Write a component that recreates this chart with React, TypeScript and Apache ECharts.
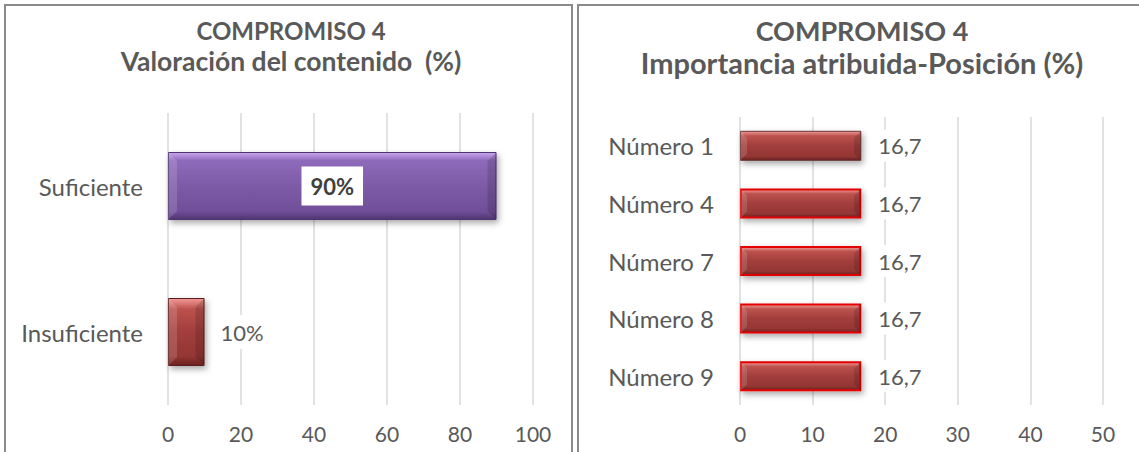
import React, { useEffect, useRef } from "react";
import * as echarts from "echarts";

// Left panel: assessment of the content
const valoracionCategorias = ["Suficiente", "Insuficiente"];
const valoracionValores = [90, 10];
const valoracionTicks = [0, 20, 40, 60, 80, 100];

// Right panel: attributed importance by position
const posicionCategorias = ["Número 1", "Número 4", "Número 7", "Número 8", "Número 9"];
const posicionValores = [16.7, 16.7, 16.7, 16.7, 16.7];
const posicionTicks = [0, 10, 20, 30, 40, 50];

const titulo1 = "COMPROMISO 4";
const subtitulo1 = "Valoración del contenido  (%)";
const subtitulo2 = "Importancia atribuida-Posición (%)";

const FONT = "Lato, 'Open Sans', sans-serif";
const TEXT = "#595959";

const grad = (stops: [number, string][]) =>
  new echarts.graphic.LinearGradient(
    0, 0, 0, 1,
    stops.map(([offset, color]) => ({ offset, color }))
  );

const purpleFill = () =>
  grad([
    [0, "#c9a6f0"],
    [0.12, "#8f6abb"],
    [0.5, "#7d5ba7"],
    [0.88, "#704f99"],
    [1, "#4e346f"],
  ]);

const redFill = () =>
  grad([
    [0, "#f29a96"],
    [0.16, "#bc524e"],
    [0.5, "#a13e3c"],
    [0.86, "#953634"],
    [1, "#6a2220"],
  ]);

const shadow = {
  shadowColor: "rgba(0,0,0,0.35)",
  shadowBlur: 6,
  shadowOffsetX: 2,
  shadowOffsetY: 3,
};

// Bevelled ends drawn over each bar: light on the left, dark on the right.
const bevelRenderer = (barHeight: number, bevel: number) => (params: any, api: any) => {
  const cat = api.value(1);
  const start = api.coord([0, cat]);
  const end = api.coord([api.value(0), cat]);
  const x0 = start[0];
  const x1 = end[0];
  const y0 = start[1] - barHeight / 2;
  const y1 = start[1] + barHeight / 2;
  const b = Math.min(bevel, (x1 - x0) / 2);
  return {
    type: "group",
    silent: true,
    children: [
      {
        type: "polygon",
        shape: { points: [[x0, y0], [x0 + b, y0 + b], [x0 + b, y1 - b], [x0, y1]] },
        style: { fill: "rgba(255,255,255,0.14)" },
      },
      {
        type: "polygon",
        shape: { points: [[x1, y0], [x1 - b, y0 + b], [x1 - b, y1 - b], [x1, y1]] },
        style: { fill: "rgba(0,0,0,0.14)" },
      },
    ],
  };
};

const titleBlock = (
  center: number,
  top: number,
  sub: string,
  size1: number,
  size2: number,
  lh1: number,
  lh2: number
) => ({
  text: `{a|${titulo1}}\n{b|${sub}}`,
  left: center,
  top,
  padding: 0,
  textAlign: "center",
  textStyle: {
    rich: {
      a: {
        fontFamily: FONT,
        fontSize: size1,
        fontWeight: "bold",
        color: TEXT,
        lineHeight: lh1,
        align: "center",
      },
      b: {
        fontFamily: FONT,
        fontSize: size2,
        fontWeight: "bold",
        color: TEXT,
        lineHeight: lh2,
        align: "center",
      },
    },
  },
});

export default function App() {
  const ref = useRef<HTMLDivElement>(null);

  useEffect(() => {
    if (!ref.current) return;
    const chart = echarts.init(ref.current, undefined, { renderer: "svg" });

    const leftMax = valoracionTicks[valoracionTicks.length - 1];
    const leftStep = valoracionTicks[1] - valoracionTicks[0];
    const rightMax = posicionTicks[posicionTicks.length - 1];
    const rightStep = posicionTicks[1] - posicionTicks[0];

    const axisLabel = { color: TEXT, fontFamily: FONT, fontSize: 21, margin: 18 };
    const catLabel = { color: TEXT, fontFamily: FONT, fontSize: 24 };
    const splitLine = { lineStyle: { color: "#d9d9d9", width: 1.5 } };

    chart.setOption({
      animation: false,
      textStyle: { fontFamily: FONT },
      title: [
        titleBlock(291, 16, subtitulo1, 24, 26.5, 29, 31),
        titleBlock(862, 14, subtitulo2, 27, 29, 32, 32),
      ],
      graphic: [
        {
          type: "rect",
          shape: { x: 5, y: 5, width: 567, height: 470 },
          style: { fill: "none", stroke: "#8a8a8a", lineWidth: 2 },
          z: 100,
        },
        {
          type: "rect",
          shape: { x: 578, y: 5, width: 580, height: 470 },
          style: { fill: "none", stroke: "#8a8a8a", lineWidth: 2 },
          z: 100,
        },
      ],
      grid: [
        { left: 168, top: 113, width: 365, height: 292 },
        { left: 740, top: 117, width: 363, height: 288 },
      ],
      xAxis: [
        {
          gridIndex: 0,
          type: "value",
          min: 0,
          max: leftMax,
          interval: leftStep,
          axisLine: { show: false },
          axisTick: { show: false },
          axisLabel,
          splitLine,
        },
        {
          gridIndex: 1,
          type: "value",
          min: 0,
          max: rightMax,
          interval: rightStep,
          axisLine: { show: false },
          axisTick: { show: false },
          axisLabel,
          splitLine,
        },
      ],
      yAxis: [
        {
          gridIndex: 0,
          type: "category",
          inverse: true,
          data: valoracionCategorias,
          axisLine: { show: false },
          axisTick: { show: false },
          axisLabel: { ...catLabel, margin: 25 },
        },
        {
          gridIndex: 1,
          type: "category",
          inverse: true,
          data: posicionCategorias,
          axisLine: { show: false },
          axisTick: { show: false },
          axisLabel: { ...catLabel, margin: 26 },
        },
      ],
      series: [
        {
          type: "bar",
          xAxisIndex: 0,
          yAxisIndex: 0,
          barWidth: 68,
          data: valoracionValores.map((v, i) =>
            i === 0
              ? {
                  value: v,
                  itemStyle: {
                    color: purpleFill(),
                    borderColor: "#4e346f",
                    borderWidth: 1,
                    ...shadow,
                  },
                  label: {
                    show: true,
                    position: "inside",
                    formatter: "{c}%",
                    fontFamily: FONT,
                    fontSize: 22,
                    fontWeight: "bold",
                    color: "#404040",
                    backgroundColor: "#ffffff",
                    padding: [9, 9, 8, 9],
                  },
                }
              : {
                  value: v,
                  itemStyle: {
                    color: redFill(),
                    borderColor: "#5e1e1c",
                    borderWidth: 1,
                    ...shadow,
                  },
                  label: {
                    show: true,
                    position: "right",
                    distance: 12,
                    formatter: "{c}%",
                    fontFamily: FONT,
                    fontSize: 22,
                    color: TEXT,
                    backgroundColor: "#ffffff",
                    padding: [6, 4],
                  },
                }
          ),
        },
        {
          type: "custom",
          xAxisIndex: 0,
          yAxisIndex: 0,
          renderItem: bevelRenderer(68, 9),
          encode: { x: 0, y: 1 },
          data: valoracionValores.map((v, i) => [v, i]),
          z: 3,
        },
        {
          type: "bar",
          xAxisIndex: 1,
          yAxisIndex: 1,
          barWidth: 30,
          label: {
            show: true,
            position: "right",
            distance: 13,
            formatter: (p: any) => String(p.value).replace(".", ","),
            fontFamily: FONT,
            fontSize: 22,
            color: TEXT,
            backgroundColor: "#ffffff",
            padding: [5, 4],
          },
          data: posicionValores.map((v, i) => ({
            value: v,
            itemStyle: {
              color: redFill(),
              borderColor: i === 0 ? "#6b3533" : "#e40000",
              borderWidth: i === 0 ? 1 : 2,
              ...shadow,
            },
          })),
        },
        {
          type: "custom",
          xAxisIndex: 1,
          yAxisIndex: 1,
          renderItem: bevelRenderer(30, 7),
          encode: { x: 0, y: 1 },
          data: posicionValores.map((v, i) => [v, i]),
          z: 3,
        },
      ],
    });

    return () => chart.dispose();
  }, []);

  return (
    <div
      ref={ref}
      style={{ position: "fixed", left: 0, top: 0, width: 1139, height: 452, background: "#fff" }}
    />
  );
}
